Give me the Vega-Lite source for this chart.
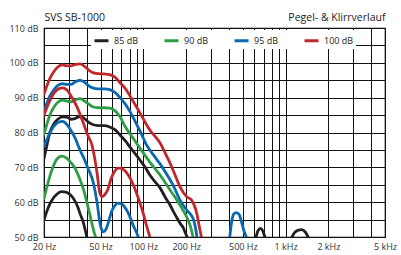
{
 "$schema": "https://vega.github.io/schema/vega-lite/v6.json",
 "width": 341, "height": 209,
 "autosize": {"type": "none"},
 "padding": {"left": 44, "top": 28, "right": 16, "bottom": 18},
 "background": "white",
 "config": {"font": "Open Sans", "view": {"stroke": "#000", "strokeWidth": 1.2}},
 "datasets": {"curves": [
  {"s":"85L","l":"85 dB","f":20,"db":72.5},{"s":"85L","l":"85 dB","f":21,"db":76.5},{"s":"85L","l":"85 dB","f":22,"db":80},{"s":"85L","l":"85 dB","f":23.5,"db":82.5},{"s":"85L","l":"85 dB","f":25,"db":83.8},{"s":"85L","l":"85 dB","f":27,"db":84.5},{"s":"85L","l":"85 dB","f":29,"db":84.4},{"s":"85L","l":"85 dB","f":31,"db":83.8},{"s":"85L","l":"85 dB","f":33,"db":84},{"s":"85L","l":"85 dB","f":35.8,"db":84.6},{"s":"85L","l":"85 dB","f":38,"db":84.2},{"s":"85L","l":"85 dB","f":41,"db":83},{"s":"85L","l":"85 dB","f":44,"db":82.3},{"s":"85L","l":"85 dB","f":48,"db":82},{"s":"85L","l":"85 dB","f":53,"db":82},{"s":"85L","l":"85 dB","f":58,"db":81.6},{"s":"85L","l":"85 dB","f":63,"db":80.8},{"s":"85L","l":"85 dB","f":68.5,"db":79.3},{"s":"85L","l":"85 dB","f":75,"db":77.5},{"s":"85L","l":"85 dB","f":80.5,"db":75.8},{"s":"85L","l":"85 dB","f":88,"db":73.8},{"s":"85L","l":"85 dB","f":94.6,"db":72.1},{"s":"85L","l":"85 dB","f":103,"db":70},{"s":"85L","l":"85 dB","f":111,"db":67.8},{"s":"85L","l":"85 dB","f":120,"db":66},{"s":"85L","l":"85 dB","f":131,"db":64.1},{"s":"85L","l":"85 dB","f":142,"db":61.5},{"s":"85L","l":"85 dB","f":154,"db":59.2},{"s":"85L","l":"85 dB","f":163,"db":57.2},{"s":"85L","l":"85 dB","f":172,"db":55.5},{"s":"85L","l":"85 dB","f":182,"db":53.8},{"s":"85L","l":"85 dB","f":191,"db":52.6},{"s":"85L","l":"85 dB","f":197,"db":51.2},{"s":"85L","l":"85 dB","f":203,"db":50},
  {"s":"85D","l":"85 dB","f":20,"db":54.8},{"s":"85D","l":"85 dB","f":21,"db":57.5},{"s":"85D","l":"85 dB","f":22,"db":59.5},{"s":"85D","l":"85 dB","f":23.1,"db":61},{"s":"85D","l":"85 dB","f":24.5,"db":62.2},{"s":"85D","l":"85 dB","f":26.6,"db":63},{"s":"85D","l":"85 dB","f":28.5,"db":62.9},{"s":"85D","l":"85 dB","f":30.5,"db":62.2},{"s":"85D","l":"85 dB","f":32.5,"db":60.8},{"s":"85D","l":"85 dB","f":34.5,"db":58.7},{"s":"85D","l":"85 dB","f":36,"db":56.5},{"s":"85D","l":"85 dB","f":37.8,"db":54.2},{"s":"85D","l":"85 dB","f":39,"db":52},{"s":"85D","l":"85 dB","f":40,"db":50},
  {"s":"85b1","l":"85 dB","f":620,"db":50},{"s":"85b1","l":"85 dB","f":640,"db":51.8},{"s":"85b1","l":"85 dB","f":665,"db":52.5},{"s":"85b1","l":"85 dB","f":690,"db":51.8},{"s":"85b1","l":"85 dB","f":715,"db":50},
  {"s":"85b2","l":"85 dB","f":1110,"db":50},{"s":"85b2","l":"85 dB","f":1160,"db":51.3},{"s":"85b2","l":"85 dB","f":1230,"db":52},{"s":"85b2","l":"85 dB","f":1300,"db":52.1},{"s":"85b2","l":"85 dB","f":1370,"db":51.5},{"s":"85b2","l":"85 dB","f":1440,"db":50},
  {"s":"90L","l":"90 dB","f":20,"db":79.5},{"s":"90L","l":"90 dB","f":21,"db":82.5},{"s":"90L","l":"90 dB","f":22,"db":85},{"s":"90L","l":"90 dB","f":23.5,"db":87.3},{"s":"90L","l":"90 dB","f":25,"db":88.7},{"s":"90L","l":"90 dB","f":27,"db":89.3},{"s":"90L","l":"90 dB","f":29,"db":89},{"s":"90L","l":"90 dB","f":31,"db":88.8},{"s":"90L","l":"90 dB","f":33,"db":89.3},{"s":"90L","l":"90 dB","f":35.8,"db":89.7},{"s":"90L","l":"90 dB","f":38,"db":89.2},{"s":"90L","l":"90 dB","f":41,"db":88.2},{"s":"90L","l":"90 dB","f":44,"db":87.4},{"s":"90L","l":"90 dB","f":48,"db":87.1},{"s":"90L","l":"90 dB","f":53,"db":87.1},{"s":"90L","l":"90 dB","f":58,"db":87},{"s":"90L","l":"90 dB","f":63,"db":86.3},{"s":"90L","l":"90 dB","f":68.5,"db":84.5},{"s":"90L","l":"90 dB","f":74.2,"db":81.8},{"s":"90L","l":"90 dB","f":84.5,"db":78.4},{"s":"90L","l":"90 dB","f":94.6,"db":75.5},{"s":"90L","l":"90 dB","f":111,"db":71.5},{"s":"90L","l":"90 dB","f":131,"db":67.8},{"s":"90L","l":"90 dB","f":154,"db":63.5},{"s":"90L","l":"90 dB","f":172,"db":60.6},{"s":"90L","l":"90 dB","f":191,"db":57.5},{"s":"90L","l":"90 dB","f":206,"db":54.9},{"s":"90L","l":"90 dB","f":215,"db":52.8},{"s":"90L","l":"90 dB","f":223,"db":50},
  {"s":"90D","l":"90 dB","f":20,"db":61},{"s":"90D","l":"90 dB","f":21,"db":64.5},{"s":"90D","l":"90 dB","f":22,"db":67.5},{"s":"90D","l":"90 dB","f":23.1,"db":70},{"s":"90D","l":"90 dB","f":24.5,"db":72.2},{"s":"90D","l":"90 dB","f":26.6,"db":73.2},{"s":"90D","l":"90 dB","f":28.5,"db":72.8},{"s":"90D","l":"90 dB","f":31,"db":71.3},{"s":"90D","l":"90 dB","f":33,"db":69.8},{"s":"90D","l":"90 dB","f":35.8,"db":66.5},{"s":"90D","l":"90 dB","f":38,"db":63.5},{"s":"90D","l":"90 dB","f":40,"db":60},{"s":"90D","l":"90 dB","f":42,"db":56.5},{"s":"90D","l":"90 dB","f":44,"db":53},{"s":"90D","l":"90 dB","f":46,"db":50},
  {"s":"95L","l":"95 dB","f":20,"db":86},{"s":"95L","l":"95 dB","f":21,"db":88.5},{"s":"95L","l":"95 dB","f":22,"db":90.5},{"s":"95L","l":"95 dB","f":23.5,"db":92.3},{"s":"95L","l":"95 dB","f":25,"db":93.5},{"s":"95L","l":"95 dB","f":27,"db":94},{"s":"95L","l":"95 dB","f":29,"db":93.8},{"s":"95L","l":"95 dB","f":31,"db":93.8},{"s":"95L","l":"95 dB","f":33,"db":94.5},{"s":"95L","l":"95 dB","f":35.8,"db":95},{"s":"95L","l":"95 dB","f":38,"db":94.6},{"s":"95L","l":"95 dB","f":41,"db":93.5},{"s":"95L","l":"95 dB","f":44,"db":92.8},{"s":"95L","l":"95 dB","f":48,"db":92.5},{"s":"95L","l":"95 dB","f":53,"db":92.5},{"s":"95L","l":"95 dB","f":58,"db":92.3},{"s":"95L","l":"95 dB","f":63,"db":91.5},{"s":"95L","l":"95 dB","f":68.5,"db":90},{"s":"95L","l":"95 dB","f":75,"db":88},{"s":"95L","l":"95 dB","f":80.5,"db":86},{"s":"95L","l":"95 dB","f":88,"db":83},{"s":"95L","l":"95 dB","f":95,"db":80.3},{"s":"95L","l":"95 dB","f":105,"db":76.5},{"s":"95L","l":"95 dB","f":111,"db":75},{"s":"95L","l":"95 dB","f":124,"db":72.3},{"s":"95L","l":"95 dB","f":131,"db":71},{"s":"95L","l":"95 dB","f":146,"db":68},{"s":"95L","l":"95 dB","f":162,"db":64.8},{"s":"95L","l":"95 dB","f":181,"db":60.6},{"s":"95L","l":"95 dB","f":203,"db":57.6},{"s":"95L","l":"95 dB","f":219,"db":56},{"s":"95L","l":"95 dB","f":226,"db":54.8},{"s":"95L","l":"95 dB","f":231,"db":53.2},{"s":"95L","l":"95 dB","f":235,"db":51.5},{"s":"95L","l":"95 dB","f":238,"db":50},
  {"s":"95D","l":"95 dB","f":20,"db":76},{"s":"95D","l":"95 dB","f":21.5,"db":79},{"s":"95D","l":"95 dB","f":23.5,"db":81.8},{"s":"95D","l":"95 dB","f":25.5,"db":83},{"s":"95D","l":"95 dB","f":27,"db":83.2},{"s":"95D","l":"95 dB","f":29,"db":82.3},{"s":"95D","l":"95 dB","f":30.5,"db":81},{"s":"95D","l":"95 dB","f":33,"db":78.5},{"s":"95D","l":"95 dB","f":35.8,"db":75},{"s":"95D","l":"95 dB","f":37.8,"db":73},{"s":"95D","l":"95 dB","f":40.5,"db":70},{"s":"95D","l":"95 dB","f":44.5,"db":65.5},{"s":"95D","l":"95 dB","f":47.2,"db":60},{"s":"95D","l":"95 dB","f":49.5,"db":54},{"s":"95D","l":"95 dB","f":51,"db":52},{"s":"95D","l":"95 dB","f":52.5,"db":51.5},{"s":"95D","l":"95 dB","f":54.5,"db":52.2},{"s":"95D","l":"95 dB","f":57,"db":54.5},{"s":"95D","l":"95 dB","f":60,"db":57.5},{"s":"95D","l":"95 dB","f":63,"db":59},{"s":"95D","l":"95 dB","f":66,"db":59.7},{"s":"95D","l":"95 dB","f":70,"db":59.5},{"s":"95D","l":"95 dB","f":76,"db":57.8},{"s":"95D","l":"95 dB","f":81,"db":55.5},{"s":"95D","l":"95 dB","f":85,"db":53.2},{"s":"95D","l":"95 dB","f":89,"db":51.5},{"s":"95D","l":"95 dB","f":92,"db":50},
  {"s":"95b","l":"95 dB","f":405,"db":50},{"s":"95b","l":"95 dB","f":418,"db":54.5},{"s":"95b","l":"95 dB","f":432,"db":56.6},{"s":"95b","l":"95 dB","f":452,"db":57},{"s":"95b","l":"95 dB","f":472,"db":56.4},{"s":"95b","l":"95 dB","f":492,"db":54},{"s":"95b","l":"95 dB","f":512,"db":51.5},{"s":"95b","l":"95 dB","f":530,"db":50},
  {"s":"100L","l":"100 dB","f":20,"db":91},{"s":"100L","l":"100 dB","f":21,"db":93.5},{"s":"100L","l":"100 dB","f":22,"db":95.5},{"s":"100L","l":"100 dB","f":23.5,"db":97.5},{"s":"100L","l":"100 dB","f":25,"db":98.8},{"s":"100L","l":"100 dB","f":26.8,"db":99.4},{"s":"100L","l":"100 dB","f":28.5,"db":99.2},{"s":"100L","l":"100 dB","f":30.5,"db":99.1},{"s":"100L","l":"100 dB","f":33,"db":99.5},{"s":"100L","l":"100 dB","f":35.8,"db":99.7},{"s":"100L","l":"100 dB","f":38,"db":99.2},{"s":"100L","l":"100 dB","f":41,"db":98},{"s":"100L","l":"100 dB","f":44,"db":97.2},{"s":"100L","l":"100 dB","f":48,"db":96.9},{"s":"100L","l":"100 dB","f":53,"db":96.8},{"s":"100L","l":"100 dB","f":58,"db":96.6},{"s":"100L","l":"100 dB","f":63,"db":95.9},{"s":"100L","l":"100 dB","f":68.5,"db":94.3},{"s":"100L","l":"100 dB","f":75,"db":92.5},{"s":"100L","l":"100 dB","f":80.5,"db":90.5},{"s":"100L","l":"100 dB","f":88,"db":87.8},{"s":"100L","l":"100 dB","f":95,"db":85.5},{"s":"100L","l":"100 dB","f":105,"db":82.3},{"s":"100L","l":"100 dB","f":111,"db":80.7},{"s":"100L","l":"100 dB","f":120,"db":79},{"s":"100L","l":"100 dB","f":131,"db":77},{"s":"100L","l":"100 dB","f":142,"db":74.2},{"s":"100L","l":"100 dB","f":154,"db":71.2},{"s":"100L","l":"100 dB","f":167,"db":67.8},{"s":"100L","l":"100 dB","f":181,"db":64.4},{"s":"100L","l":"100 dB","f":201,"db":61.6},{"s":"100L","l":"100 dB","f":218,"db":60.6},{"s":"100L","l":"100 dB","f":237,"db":56.9},{"s":"100L","l":"100 dB","f":250,"db":52},{"s":"100L","l":"100 dB","f":256,"db":50},
  {"s":"100D","l":"100 dB","f":20,"db":85},{"s":"100D","l":"100 dB","f":21.5,"db":88.3},{"s":"100D","l":"100 dB","f":23.5,"db":91.3},{"s":"100D","l":"100 dB","f":25.5,"db":92.6},{"s":"100D","l":"100 dB","f":27,"db":92.8},{"s":"100D","l":"100 dB","f":29,"db":92.2},{"s":"100D","l":"100 dB","f":31.5,"db":90},{"s":"100D","l":"100 dB","f":34,"db":87.5},{"s":"100D","l":"100 dB","f":37.6,"db":83},{"s":"100D","l":"100 dB","f":40.8,"db":79},{"s":"100D","l":"100 dB","f":43.5,"db":76.4},{"s":"100D","l":"100 dB","f":45.5,"db":72.5},{"s":"100D","l":"100 dB","f":47.2,"db":68.4},{"s":"100D","l":"100 dB","f":49.5,"db":62.5},{"s":"100D","l":"100 dB","f":51,"db":61.6},{"s":"100D","l":"100 dB","f":52.5,"db":61.8},{"s":"100D","l":"100 dB","f":54.5,"db":62.6},{"s":"100D","l":"100 dB","f":56.4,"db":63.8},{"s":"100D","l":"100 dB","f":59,"db":66.5},{"s":"100D","l":"100 dB","f":62,"db":68.5},{"s":"100D","l":"100 dB","f":66.3,"db":69.8},{"s":"100D","l":"100 dB","f":70,"db":69.7},{"s":"100D","l":"100 dB","f":74.2,"db":69},{"s":"100D","l":"100 dB","f":79,"db":67.5},{"s":"100D","l":"100 dB","f":84.5,"db":65.2},{"s":"100D","l":"100 dB","f":90,"db":62.3},{"s":"100D","l":"100 dB","f":94.6,"db":59.8},{"s":"100D","l":"100 dB","f":100,"db":56.6},{"s":"100D","l":"100 dB","f":105,"db":53.4},{"s":"100D","l":"100 dB","f":111,"db":50}
 ]},
 "data": {"name": "curves"},
 "mark": {"type": "line", "strokeWidth": 2.8, "interpolate": "monotone", "clip": true, "strokeCap": "round", "strokeJoin": "round"},
 "encoding": {
  "x": {"field": "f", "type": "quantitative",
   "scale": {"type": "log", "domain": [20, 5000], "nice": false},
   "axis": {"values": [20,30,40,50,60,70,80,90,100,200,300,400,500,600,700,800,900,1000,2000,3000,4000,5000],
    "labelExpr": "indexof([20,50,100,200,500], datum.value) >= 0 ? datum.value + ' Hz' : (indexof([1000,2000,5000], datum.value) >= 0 ? (datum.value / 1000) + ' kHz' : '')",
    "grid": true, "gridColor": "#111", "gridWidth": 1, "gridOpacity": 1, "ticks": false, "domain": false,
    "labelFont": "Open Sans", "labelFontSize": 9, "labelColor": "#333", "labelPadding": 5,
    "labelOverlap": false, "labelBound": false, "labelFlush": false,
    "title": "Pegel- & Klirrverlauf", "titleX": 341, "titleY": -216.5, "titleAlign": "right", "titleBaseline": "alphabetic",
    "titleFont": "Open Sans", "titleFontSize": 10.5, "titleFontWeight": "normal", "titleColor": "#222"}},
  "y": {"field": "db", "type": "quantitative",
   "scale": {"domain": [50, 110], "nice": false, "zero": false},
   "axis": {"values": [50,55,60,65,70,75,80,85,90,95,100,105,110],
    "labelExpr": "datum.value % 10 == 0 ? datum.value + ' dB' : ''",
    "grid": true, "gridColor": "#111", "gridWidth": 1, "gridOpacity": 1, "ticks": false, "domain": false,
    "labelFont": "Open Sans", "labelFontSize": 9, "labelColor": "#333", "labelPadding": 6,
    "title": "SVS SB-1000", "titleAngle": 0, "titleX": 0, "titleY": -7.5, "titleAlign": "left", "titleBaseline": "alphabetic",
    "titleFont": "Open Sans", "titleFontSize": 10.5, "titleFontWeight": "normal", "titleColor": "#222"}},
  "color": {"field": "l", "type": "nominal",
   "scale": {"domain": ["85 dB", "90 dB", "95 dB", "100 dB"], "range": ["#231f20", "#2e9d44", "#0a68b0", "#c1272d"]},
   "legend": {"orient": "none", "legendX": 47, "legendY": 2, "direction": "horizontal", "columns": 4, "gridAlign": "all", "columnPadding": 14,
    "title": null, "symbolType": "stroke", "symbolStrokeWidth": 3, "symbolSize": 196, "labelFont": "Open Sans", "labelFontSize": 9, "labelColor": "#222", "labelOffset": 4,
    "fillColor": "white", "padding": 2}},
  "detail": {"field": "s"}
 }
}
